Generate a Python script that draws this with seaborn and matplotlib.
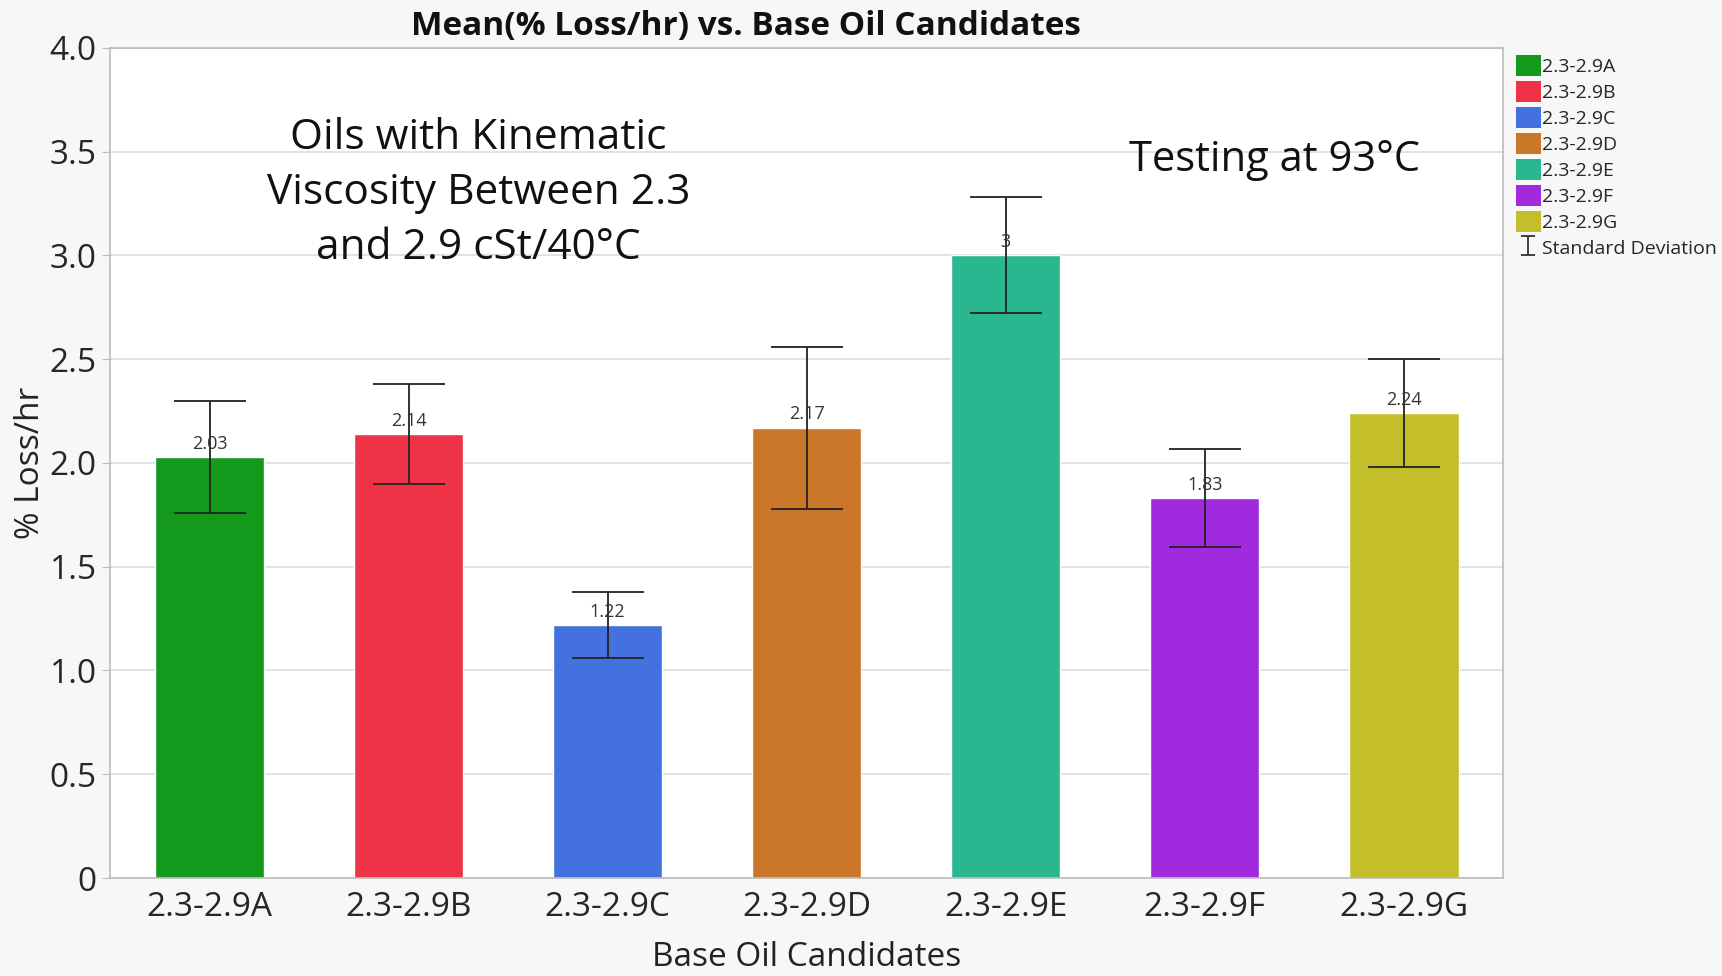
import matplotlib
matplotlib.use("Agg")
import matplotlib.pyplot as plt
import seaborn as sns
import pandas as pd
import numpy as np
from matplotlib.patches import Patch

# data
candidates = ["2.3-2.9A", "2.3-2.9B", "2.3-2.9C", "2.3-2.9D", "2.3-2.9E", "2.3-2.9F", "2.3-2.9G"]
mean_loss = [2.03, 2.14, 1.22, 2.17, 3.0, 1.83, 2.24]
std_dev = [0.27, 0.24, 0.16, 0.39, 0.28, 0.235, 0.26]
value_labels = ["2.03", "2.14", "1.22", "2.17", "3", "1.83", "2.24"]
colors = ["#139A1C", "#EE3347", "#4371DF", "#CB7729", "#2AB68F", "#A12ADE", "#C4BE2B"]

df = pd.DataFrame({"candidate": candidates, "loss": mean_loss, "sd": std_dev})

sns.set_style("white")
plt.rcParams['font.family'] = ['Open Sans', 'DejaVu Sans']

fig = plt.figure(figsize=(17.22, 9.76), dpi=100, facecolor="#F7F7F7")
ax = fig.add_axes([0.0639, 0.1004, 0.8091, 0.8506])
ax.set_facecolor("white")

sns.barplot(data=df, x="candidate", y="loss", hue="candidate",
            palette=dict(zip(candidates, colors)), width=0.55, saturation=1,
            legend=False, ax=ax, zorder=2)

ax.errorbar(range(len(candidates)), df["loss"], yerr=df["sd"], fmt="none",
            ecolor="#222222", elinewidth=1.3, capsize=26, capthick=1.3, zorder=3)
# small-cap handle only for the legend (no visible data)
eb_leg = ax.errorbar([np.nan], [np.nan], yerr=[0.1], fmt="none", ecolor="#222222",
                     elinewidth=1.2, capsize=5, capthick=1.2)

for i, (v, lab) in enumerate(zip(mean_loss, value_labels)):
    ax.text(i, v + 0.02, lab, ha="center", va="bottom", fontsize=13, color="#333333", zorder=4)

ax.set_ylim(0, 4.0)
ax.set_xlim(-0.5, 6.5)
ax.set_yticks([0, 0.5, 1.0, 1.5, 2.0, 2.5, 3.0, 3.5, 4.0])
ax.set_yticklabels(["0", "0.5", "1.0", "1.5", "2.0", "2.5", "3.0", "3.5", "4.0"])
ax.yaxis.grid(True, color="#DDDDDD", linewidth=1.2, zorder=0)
ax.set_axisbelow(True)
ax.tick_params(axis="both", labelsize=24, length=6, color="#BBBBBB", left=True, bottom=False)
for s in ax.spines.values():
    s.set_color("#BBBBBB")
    s.set_linewidth(1.2)

ax.set_xlabel("Base Oil Candidates", fontsize=24, color="#222222", labelpad=12)
ax.set_ylabel("% Loss/hr", fontsize=24, color="#222222", labelpad=2)

fig.text(0.433, 0.973, "Mean(% Loss/hr) vs. Base Oil Candidates", ha="center", va="center",
         fontsize=24, fontweight="bold", color="#111111")

ax.text(1.35, 3.3, "Oils with Kinematic\nViscosity Between 2.3\nand 2.9 cSt/40°C", ha="center", va="center",
        fontsize=30.5, color="#111111", linespacing=1.4)
ax.text(5.35, 3.46, "Testing at 93°C", ha="center", va="center", fontsize=30, color="#111111")

handles = [Patch(facecolor=c, edgecolor="none") for c in colors] + [eb_leg]
labels = candidates + ["Standard Deviation"]
fig.legend(handles, labels, loc="upper left", bbox_to_anchor=(0.876, 0.952), frameon=False,
           fontsize=14, handlelength=1.25, handleheight=1.3, handletextpad=0.1, labelspacing=0.25,
           borderaxespad=0)

fig.savefig("out.png", dpi=100, facecolor=fig.get_facecolor())
